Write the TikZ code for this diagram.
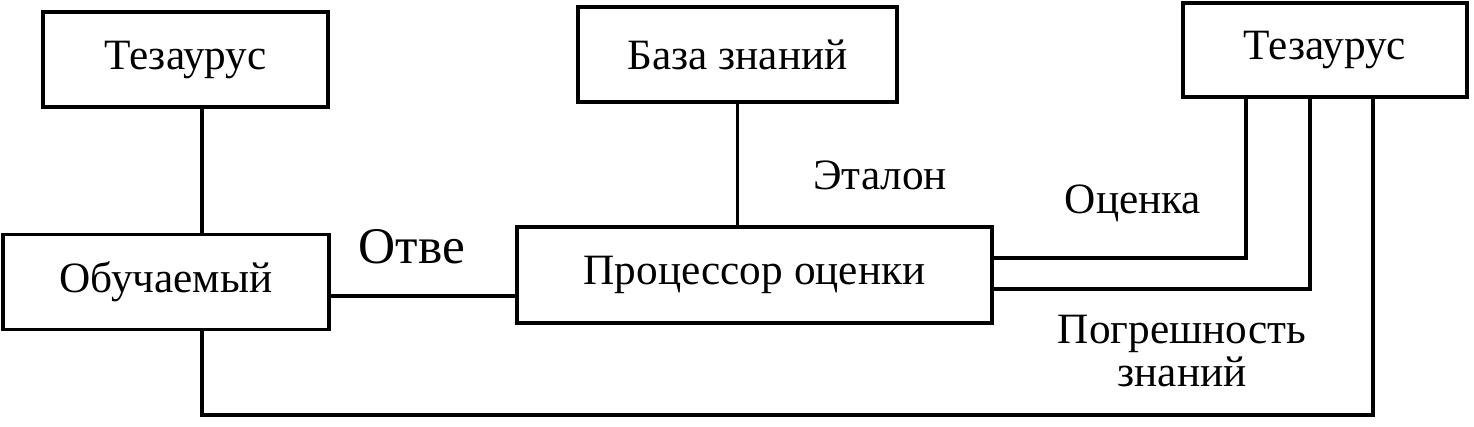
\documentclass[tikz,border=0pt]{standalone}
\usepackage{fontspec}
\setmainfont{Liberation Serif}
\usepackage{tikz}

\tikzset{
    blocco/.style={draw, line width=1.1pt, inner sep=0pt, align=center,
        font=\fontsize{12.3}{10.8}\selectfont},
    etich/.style={inner sep=0pt, align=center,
        font=\fontsize{12.3}{10.8}\selectfont},
    linea/.style={line width=1.1pt}
}

\begin{document}
\begin{tikzpicture}[x=0.01cm, y=-0.01cm]
    \useasboundingbox (0,0) rectangle (1474,426);

    % Blocchi
    \node[blocco, minimum width=2.85cm, minimum height=0.95cm] (tl) at (185.5,59.5) {Тезаурус};
    \node[blocco, minimum width=3.26cm, minimum height=0.95cm] (ob) at (166,282) {Обучаемый};
    \node[blocco, minimum width=3.19cm, minimum height=0.95cm] (bz) at (737.5,54.5) {База знаний};
    \node[blocco, minimum width=4.75cm, minimum height=0.96cm] (pr) at (754.5,275) {Процессор оценки};
    \node[blocco, minimum width=2.84cm, minimum height=0.94cm] (tr) at (1325,50) {Тезаурус};

    % Punti di svolta
    \coordinate (c1) at (202,0);
    \coordinate (otv) at (0,296);
    \coordinate (k1) at (1246,258);
    \coordinate (k2) at (1310,289);
    \coordinate (k3) at (1373,415);

    % Collegamenti
    \draw[linea] (c1 |- tl.south) -- (c1 |- ob.north);
    \draw[linea] (otv -| ob.east) -- (otv -| pr.west);
    \draw[linea] (bz.south) -- (bz.south |- pr.north);
    \draw[linea] (k1 -| pr.east) -| (k1 |- tr.south);
    \draw[linea] (k2 -| pr.east) -| (k2 |- tr.south);
    \draw[linea] (c1 |- ob.south) |- (k3) -- (k3 |- tr.south);

    % Etichette
    \node[etich, font=\fontsize{14.6}{14}\selectfont] (otve) at (412,246.5) {Отве};
    \node[etich] (etal) at (880,175) {Эталон};
    \node[etich] (ocen) at (1133,203) {Оценка};
    \node[etich] (pogr) at (1182,351) {Погрешность\\знаний};
\end{tikzpicture}
\end{document}
